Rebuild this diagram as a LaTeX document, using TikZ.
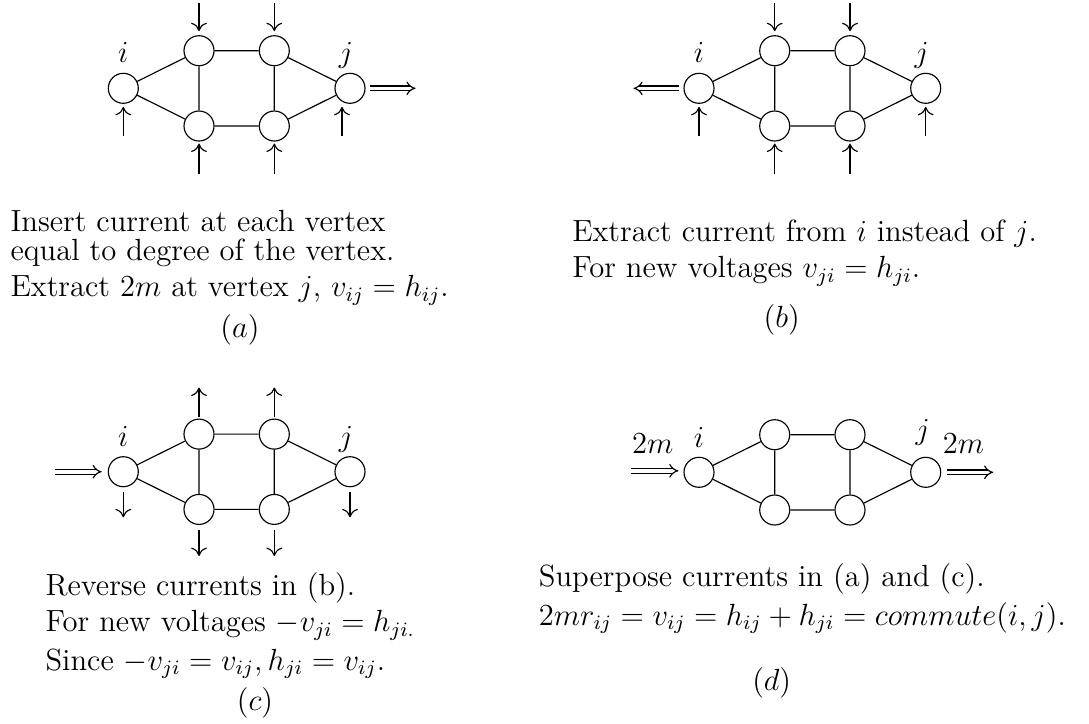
\documentclass[tikz,border=0pt]{standalone}
\usetikzlibrary{calc,arrows.meta}
\newcommand{\mynet}[1]{%
  \node[vtx] (#1i)  at (123.3,88.3) {};
  \node[vtx] (#1tl) at (199,50.7) {};
  \node[vtx] (#1tr) at (274.3,50.7) {};
  \node[vtx] (#1bl) at (199,126) {};
  \node[vtx] (#1br) at (274.3,126) {};
  \node[vtx] (#1j)  at (350,88.3) {};
  \draw (#1i) -- (#1tl) (#1i) -- (#1bl) (#1tl) -- (#1tr) (#1tl) -- (#1bl)
        (#1tr) -- (#1br) (#1bl) -- (#1br) (#1tr) -- (#1j) (#1br) -- (#1j);
}
\begin{document}
\begin{tikzpicture}[x=0.392pt,y=-0.392pt,line width=0.45pt,
  every node/.style={font=\fontsize{12}{14.5}\selectfont},
  vtx/.style={circle,draw,minimum size=11.76pt,inner sep=0pt},
  cur/.style={-{Computer Modern Rightarrow[length=3.3pt,width=6.2pt]}},
  big/.style={double,double distance=1.4pt,-{Implies[length=5pt,width=8pt]}},
  txt/.style={anchor=base west,inner sep=0pt},
  lbl/.style={anchor=base,inner sep=0pt}]
\useasboundingbox (0,0) rectangle (1089,723);
% ---------------- (a)
\begin{scope}
  \mynet{a}
  \node[lbl] (ali) at ($(ai.north)+(0,-10)$) {$i$};
  \node[lbl] (alj) at ($(aj.north)+(-4,-10)$) {$j$};
  \draw[cur] ($(atl.north)+(0,-32)$) -- ($(atl.north)+(0,-4)$);
  \draw[cur] ($(atr.north)+(0,-32)$) -- ($(atr.north)+(0,-4)$);
  \draw[cur] ($(ai.south)+(0,32)$) -- ($(ai.south)+(0,3)$);
  \draw[cur] ($(aj.south)+(-8,32)$) -- ($(aj.south)+(-8,3)$);
  \draw[cur] ($(abl.south)+(0,32)$) -- ($(abl.south)+(0,2)$);
  \draw[cur] ($(abr.south)+(0,32)$) -- ($(abr.south)+(0,2)$);
  \draw[big] ($(aj.east)+(4,0)$) -- ($(aj.east)+(50,0)$);
\end{scope}
\node[txt] (ta1) at (10,231.7) {Insert current at each vertex};
\node[txt] (ta2) at (10,260) {equal to degree of the vertex.};
\node[txt] (ta3) at (10,296.7) {Extract $2m$ at vertex $j$, $v_{ij}=h_{ij}$.};
\node (capa) at (240,330) {$(a)$};
% ---------------- (b)
\begin{scope}[shift={(575.7,0)}]
  \mynet{b}
  \node[lbl] (bli) at ($(bi.north)+(0,-10)$) {$i$};
  \node[lbl] (blj) at ($(bj.north)+(-4,-10)$) {$j$};
  \draw[cur] ($(btl.north)+(0,-32)$) -- ($(btl.north)+(0,-4)$);
  \draw[cur] ($(btr.north)+(0,-32)$) -- ($(btr.north)+(0,-4)$);
  \draw[cur] ($(bi.south)+(0,32)$) -- ($(bi.south)+(0,3)$);
  \draw[cur] ($(bj.south)+(0,32)$) -- ($(bj.south)+(0,3)$);
  \draw[cur] ($(bbl.south)+(0,32)$) -- ($(bbl.south)+(0,2)$);
  \draw[cur] ($(bbr.south)+(0,32)$) -- ($(bbr.south)+(0,2)$);
  \draw[big] ($(bi.west)+(-4,0)$) -- ($(bi.west)+(-50,0)$);
\end{scope}
\node[txt] (tb1) at (571.7,241.7) {Extract current from $i$ instead of $j$.};
\node[txt] (tb2) at (571.7,277.7) {For new voltages $v_{ji}=h_{ji}$.};
\node (capb) at (781.7,320) {$(b)$};
% ---------------- (c)
\begin{scope}[shift={(0,383.4)}]
  \mynet{c}
  \node[lbl] (cli) at ($(ci.north)+(0,-10)$) {$i$};
  \node[lbl] (clj) at ($(cj.north)+(-4,-10)$) {$j$};
  \draw[cur] ($(ctl.north)+(0,-2)$) -- ($(ctl.north)+(0,-31)$);
  \draw[cur] ($(ctr.north)+(0,-2)$) -- ($(ctr.north)+(0,-31)$);
  \draw[cur] ($(ci.south)+(0,5)$) -- ($(ci.south)+(0,30)$);
  \draw[cur] ($(cj.south)+(0,5)$) -- ($(cj.south)+(0,30)$);
  \draw[cur] ($(cbl.south)+(0,5)$) -- ($(cbl.south)+(0,31)$);
  \draw[cur] ($(cbr.south)+(0,5)$) -- ($(cbr.south)+(0,31)$);
  \draw[big] ($(ci.west)+(-53,0)$) -- ($(ci.west)+(-6,0)$);
\end{scope}
\node[txt] (tc1) at (45,595) {Reverse currents in (b).};
\node[txt] (tc2) at (45,631.7) {For new voltages $-v_{ji}=h_{ji.}$};
\node[txt] (tc3) at (45,670) {Since $-v_{ji}=v_{ij},h_{ji}=v_{ij}$.};
\node (capc) at (255,703.3) {$(c)$};
% ---------------- (d)
\begin{scope}[shift={(575.7,384)}]
  \mynet{d}
  \node[lbl] (dli) at ($(di.north)+(0,-9)$) {$i$};
  \node[lbl] (dlj) at ($(dj.north)+(-3,-17)$) {$j$};
  \draw[big] ($(di.west)+(-52,-1.5)$) -- ($(di.west)+(-5,-1.5)$);
  \draw[big] ($(dj.east)+(6,0)$) -- ($(dj.east)+(52,0)$);
  \node[lbl] (dm1) at ($(di.west)+(-30.7,-19)$) {$2m$};
  \node[lbl] (dm2) at ($(dj.east)+(22.3,-19)$) {$2m$};
\end{scope}
\node[txt] (td1) at (538.3,586.7) {Superpose currents in (a) and (c).};
\node[txt] (td2) at (538.3,625) {$2mr_{ij}=v_{ij}=h_{ij}+h_{ji}=commute(i,j)$.};
\node (capd) at (771.7,683.3) {$(d)$};
\end{tikzpicture}
\end{document}
